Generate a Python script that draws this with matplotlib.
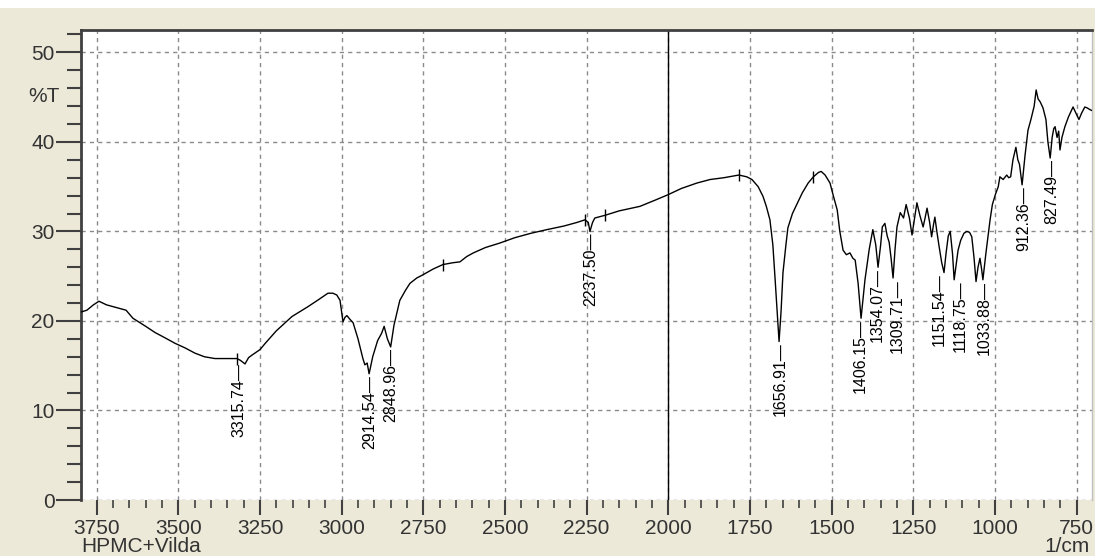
import numpy as np
import matplotlib.pyplot as plt
from matplotlib.ticker import MultipleLocator

plt.rcParams['font.family'] = ['Liberation Sans', 'DejaVu Sans']

# ---- spectrum (wavenumber 1/cm, %T) ----
wavenumber = [3798, 3780, 3760, 3743, 3720, 3700, 3679, 3660, 3639, 3600,
              3571, 3540, 3510, 3480, 3449, 3420, 3388, 3350, 3321, 3310,
              3296, 3285, 3274, 3250, 3234, 3200, 3152, 3103, 3070, 3042,
              3027, 3015, 3005, 2996, 2990, 2984, 2975, 2965, 2950, 2935,
              2929, 2922, 2916, 2905, 2890, 2878, 2870, 2860, 2850, 2840,
              2822, 2805, 2791, 2770, 2754, 2720, 2690, 2660, 2638, 2617,
              2597, 2560, 2516, 2470, 2420, 2372, 2320, 2280, 2255, 2245,
              2240, 2232, 2225, 2194, 2150, 2087, 2040, 2001, 1960, 1913,
              1872, 1830, 1784, 1760, 1744, 1725, 1710, 1700, 1689, 1680,
              1673, 1666, 1661, 1655, 1649, 1640, 1634, 1620, 1607, 1590,
              1572, 1556, 1540, 1532, 1520, 1505, 1495, 1483, 1475, 1465,
              1455, 1444, 1435, 1428, 1419, 1410, 1404, 1398, 1385, 1374,
              1365, 1358, 1350, 1345, 1337, 1330, 1324, 1318, 1312, 1306,
              1300, 1290, 1280, 1272, 1262, 1254, 1246, 1239, 1230, 1220,
              1214, 1208, 1200, 1194, 1188, 1184, 1178, 1171, 1163, 1156,
              1150, 1143, 1137, 1130, 1125, 1118, 1113, 1105, 1095, 1086,
              1078, 1071, 1064, 1058, 1052, 1046, 1041, 1037, 1028, 1015,
              1008, 999, 990, 985, 975, 964, 958, 952, 945, 936,
              930, 925, 917, 908, 899, 890, 880, 874, 868, 862,
              853, 844, 838, 831, 825, 820, 816, 810, 805, 801,
              795, 786, 775, 761, 752, 743, 735, 725, 718, 709, 703]
transmittance = [21.0, 21.2, 21.8, 22.2, 21.8, 21.6, 21.4, 21.2, 20.3, 19.4,
                 18.7, 18.1, 17.5, 17.0, 16.4, 16.0, 15.8, 15.8, 15.8, 15.6,
                 15.2, 15.9, 16.2, 16.8, 17.5, 18.9, 20.5, 21.6, 22.4, 23.1,
                 23.1, 22.9, 22.3, 19.9, 20.4, 20.6, 20.2, 19.8, 18.0, 15.8,
                 15.1, 15.3, 14.1, 16.0, 17.8, 18.6, 19.4, 18.0, 17.1, 19.5,
                 22.3, 23.4, 24.2, 24.8, 25.1, 25.8, 26.3, 26.5, 26.6, 27.2,
                 27.6, 28.2, 28.7, 29.3, 29.8, 30.2, 30.6, 31.0, 31.3, 31.0,
                 30.0, 31.0, 31.5, 31.8, 32.3, 32.8, 33.5, 34.1, 34.8, 35.4,
                 35.8, 36.0, 36.3, 36.1, 35.8, 35.0, 33.9, 32.8, 31.3, 28.5,
                 24.6, 20.5, 17.7, 21.0, 25.4, 28.5, 30.4, 32.0, 33.0, 34.3,
                 35.4, 36.1, 36.6, 36.7, 36.3, 35.4, 34.0, 32.4, 30.0, 27.9,
                 27.4, 27.6, 27.0, 26.8, 24.2, 20.3, 22.5, 24.6, 28.0, 30.2,
                 28.5, 26.0, 28.5, 30.5, 30.9, 29.5, 28.8, 27.0, 24.8, 28.0,
                 30.5, 32.1, 31.5, 33.0, 31.5, 29.6, 31.5, 33.2, 31.8, 30.5,
                 31.5, 32.6, 31.0, 29.4, 30.8, 31.6, 30.0, 28.3, 26.5, 25.4,
                 27.5, 29.5, 30.0, 27.5, 24.6, 26.5, 27.9, 29.0, 29.8, 30.0,
                 29.9, 29.4, 27.0, 24.4, 26.0, 27.0, 25.8, 24.6, 27.5, 31.3,
                 33.0, 34.1, 35.0, 36.1, 35.8, 36.3, 36.0, 36.1, 38.0, 39.4,
                 38.0, 37.5, 35.2, 38.5, 41.3, 42.5, 44.0, 45.8, 44.8, 44.5,
                 43.8, 42.5, 40.0, 38.2, 40.5, 41.5, 41.7, 40.5, 41.2, 39.1,
                 40.5, 41.7, 42.8, 43.9, 43.2, 42.5, 43.2, 43.9, 43.8, 43.6, 43.5]

# labelled peaks
peak_wn = [3315.74, 2914.54, 2848.96, 2237.50, 1656.91, 1406.15, 1354.07,
           1309.71, 1151.54, 1118.75, 1033.88, 912.36, 827.49]
peak_t = [15.4, 14.1, 17.1, 30.0, 17.7, 20.3, 26.0,
          24.8, 25.4, 24.6, 24.6, 35.2, 38.2]
# sideways nudge (px) so crowded labels do not collide, as in the original
peak_dx = [0, 0, 0, 0, 0, -2, -2, 3, -6, 4, 0, 0, 0]

# small pick markers on the trace
mark_wn = [3321, 2690, 2255, 2194, 1784, 1556]
mark_t = [15.8, 26.3, 31.3, 31.8, 36.3, 36.1]

bg = '#ECE9D8'
txt = '#333333'

fig = plt.figure(figsize=(10.95, 5.56), dpi=100, facecolor=bg)
fig.patches.append(plt.Rectangle((0, 1 - 8 / 556), 1, 8 / 556, transform=fig.transFigure,
                                 facecolor='white', edgecolor='none', zorder=0))
ax = fig.add_axes([81 / 1095, 56 / 556, 1011 / 1095, 470 / 556])
ax.set_facecolor('white')

ax.plot(wavenumber, transmittance, color='black', linewidth=1.0, zorder=3)
ax.plot(mark_wn, mark_t, linestyle='none', marker='|', markersize=9,
        markeredgewidth=1.0, color='black', zorder=3)

for wn, t, dx in zip(peak_wn, peak_t, peak_dx):
    ax.annotate(f"{wn:.2f}—", xy=(wn, t), xytext=(dx, -1), textcoords='offset pixels',
                rotation=90, ha='center', va='top', fontsize=11.5, color='black', zorder=4)

ax.axvline(2000, color='black', linewidth=1.0, zorder=2)

ax.set_xlim(3798, 703)
ax.set_ylim(0, 52.5)
ax.xaxis.set_major_locator(MultipleLocator(250))
ax.xaxis.set_minor_locator(MultipleLocator(50))
ax.yaxis.set_major_locator(MultipleLocator(10))
ax.yaxis.set_minor_locator(MultipleLocator(2))

ax.grid(True, which='major', color='#8a8a8a', linestyle=(0, (3, 3)), linewidth=1.0, zorder=1)

ax.tick_params(axis='y', which='major', direction='out', length=18, width=1.5,
               color='#404040', labelsize=15, labelcolor=txt, pad=1)
ax.tick_params(axis='y', which='minor', direction='out', length=10, width=1.5, color='#404040')
ax.tick_params(axis='x', which='major', direction='out', length=11, width=1.5,
               color='#404040', labelsize=15, labelcolor=txt, pad=3)
ax.tick_params(axis='x', which='minor', direction='out', length=6, width=1.2, color='#404040')

for side in ['left', 'top']:
    ax.spines[side].set_color('#404040')
    ax.spines[side].set_linewidth(2)
ax.spines['bottom'].set_visible(False)
ax.spines['right'].set_color('#c0c0c0')
ax.spines['right'].set_linewidth(1)

fig.text(44 / 1095, 1 - 97 / 556, '%T', fontsize=15, color=txt, ha='center', va='center')
fig.text(81 / 1095, 1 - 546 / 556, 'HPMC+Vilda', fontsize=15, color=txt, ha='left', va='center')
fig.text(1090 / 1095, 1 - 547 / 556, '1/cm', fontsize=15, color=txt, ha='right', va='center')

fig.savefig('out.png', dpi=100, facecolor=bg)
